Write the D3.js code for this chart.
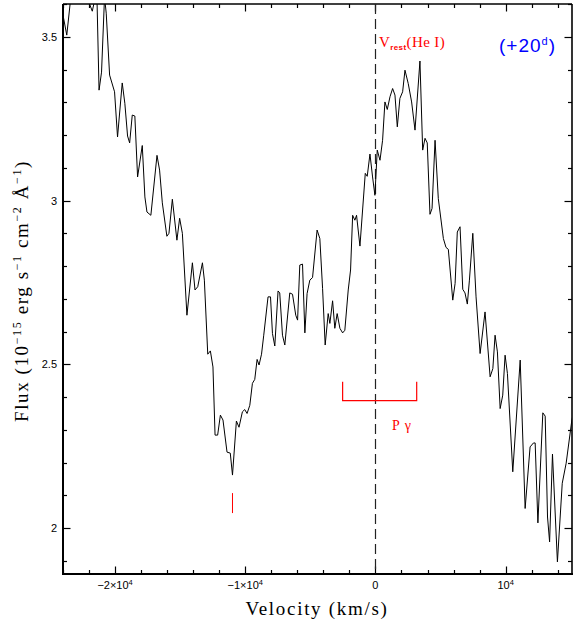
<!DOCTYPE html>
<html><head><meta charset="utf-8">
<script src="https://cdn.jsdelivr.net/npm/d3@7"></script>
<style>
html,body{margin:0;padding:0;background:#fff;}
svg{display:block;}
</style>
</head><body>
<svg id="chart" width="574" height="624"></svg>
<script>
// ---- data ----
const velocity = [-24000,-23710,-23450,-23270,-22960,-22650,-22350,-22120,-21960,-21750,-21600,-21460,-21380,-21230,-21040,-20810,-20680,-20420,-20040,-19810,-19450,-19250,-19040,-18880,-18680,-18480,-18270,-17910,-17710,-17550,-17250,-16780,-16580,-16370,-16020,-15860,-15600,-15250,-15040,-14830,-14480,-14060,-13860,-13650,-13290,-13140,-12880,-12680,-12480,-12320,-12120,-11910,-11710,-11400,-11150,-10980,-10680,-10480,-10220,-10040,-9860,-9650,-9450,-9270,-9090,-8940,-8750,-8580,-8250,-8060,-7910,-7730,-7480,-7350,-7140,-6960,-6580,-6370,-6120,-5980,-5810,-5600,-5420,-5250,-5040,-4830,-4480,-4270,-4060,-3860,-3630,-3500,-3290,-3120,-2940,-2730,-2520,-2350,-2090,-1910,-1750,-1580,-1450,-1190,-780,-630,-420,-220,-40,140,350,550,730,910,1120,1320,1500,1680,1880,2090,2270,2520,2780,3040,3420,3630,3810,3980,4190,4350,4580,4830,5220,5420,5600,5940,6120,6290,6500,6710,6880,7060,7220,7480,7730,8040,8420,8810,9020,9190,9370,9580,9780,9960,10140,10550,11120,11500,11880,12140,12270,12480,12860,13040,13220,13380,13600,13980,14350,14650,15090,15200];
const flux = [3.566,3.505,3.602,3.648,3.679,3.636,3.667,3.618,3.600,3.578,3.606,3.630,3.600,3.337,3.392,3.621,3.572,3.383,3.332,3.194,3.359,3.297,3.197,3.176,3.261,3.258,3.072,3.168,3.011,2.965,2.955,3.138,3.093,2.993,2.891,2.900,3.004,2.879,2.946,2.900,2.650,2.810,2.727,2.737,2.810,2.757,2.531,2.541,2.492,2.284,2.284,2.345,2.330,2.232,2.229,2.162,2.327,2.308,2.355,2.362,2.350,2.375,2.442,2.454,2.515,2.498,2.531,2.589,2.706,2.706,2.594,2.556,2.724,2.718,2.589,2.559,2.718,2.714,2.650,2.635,2.803,2.806,2.596,2.716,2.757,2.765,2.910,2.884,2.732,2.559,2.655,2.625,2.694,2.610,2.655,2.610,2.596,2.604,2.727,2.788,2.955,2.940,2.955,2.861,3.083,3.074,3.142,3.072,3.016,3.154,3.123,3.184,3.301,3.278,3.317,3.342,3.322,3.225,3.312,3.332,3.398,3.357,3.301,3.215,3.426,3.154,3.190,3.176,2.958,2.976,3.184,3.006,2.884,2.857,2.851,2.696,2.747,2.904,2.920,2.729,2.718,2.684,2.757,2.900,2.706,2.533,2.660,2.462,2.487,2.589,2.538,2.365,2.406,2.528,2.472,2.172,2.513,2.060,2.248,2.260,2.260,2.016,2.352,2.342,2.034,1.958,2.226,1.897,2.137,2.198,2.330,2.350];

const xDomain = [-24000, 15100];
const yDomain = [1.86, 3.6];
const xMajorTicks = [-20000, -10000, 0, 10000];
const xTickLabels = [["−2×10","4"], ["−1×10","4"], ["0",""], ["10","4"]];
const yMajorTicks = [2, 2.5, 3, 3.5];
const yTickLabels = ["2", "2.5", "3", "3.5"];
const xMinorStep = 2000, yMinorStep = 0.1;

// annotations (data units)
const restVelocity = 0;
const pGammaRange = [-2520, 3170];
const pGammaLevel = [2.389, 2.447];
const absMarkVel = -10980;
const absMarkFlux = [2.046, 2.107];

// ---- layout ----
const L = 63, R = 572, T = 4, B = 574;
const svg = d3.select("#chart");
const x = d3.scaleLinear().domain(xDomain).range([L, R]);
const y = d3.scaleLinear().domain(yDomain).range([B, T]);

svg.append("defs").append("clipPath").attr("id","clip")
  .append("rect").attr("x",L).attr("y",T).attr("width",R-L).attr("height",B-T);

// minor tick arrays
const xMinor = d3.range(-24000, 15101, xMinorStep).filter(v => !xMajorTicks.includes(v));
const yMinor = d3.range(19, 36.01, 1).map(v => +(v/10).toFixed(1)).filter(v => !yMajorTicks.includes(v) && v >= yDomain[0] && v <= yDomain[1]);

const axG = svg.append("g").attr("stroke","#000").attr("fill","none");
const tickMaj = 7.5, tickMin = 4;
function xTicks(vals, len) {
  vals.forEach(v => {
    const px = Math.round(x(v)) + 0.5;
    axG.append("line").attr("x1",px).attr("x2",px).attr("y1",B).attr("y2",B-len).attr("stroke-width",1.2);
    axG.append("line").attr("x1",px).attr("x2",px).attr("y1",T).attr("y2",T+len).attr("stroke-width",1.2);
  });
}
function yTicks(vals, len) {
  vals.forEach(v => {
    const py = Math.round(y(v)) + 0.5;
    axG.append("line").attr("y1",py).attr("y2",py).attr("x1",L).attr("x2",L+len).attr("stroke-width",1.2);
    axG.append("line").attr("y1",py).attr("y2",py).attr("x1",R).attr("x2",R-len).attr("stroke-width",1.2);
  });
}
xTicks(xMajorTicks, tickMaj); xTicks(xMinor, tickMin);
yTicks(yMajorTicks, tickMaj); yTicks(yMinor, tickMin);

// frame
axG.append("line").attr("x1",L-1).attr("x2",R+1).attr("y1",B).attr("y2",B).attr("stroke-width",2.2);
axG.append("line").attr("x1",L).attr("x2",L).attr("y1",T).attr("y2",B+1).attr("stroke-width",2);
axG.append("line").attr("x1",L).attr("x2",R).attr("y1",T).attr("y2",T).attr("stroke-width",1.6);
axG.append("line").attr("x1",R).attr("x2",R).attr("y1",T).attr("y2",B).attr("stroke-width",1.6);

// tick labels
const xl = svg.append("g").attr("font-family","'Liberation Sans', Arial, sans-serif").attr("font-size",11).attr("fill","#000");
xMajorTicks.forEach((v,i) => {
  const t = xl.append("text").attr("x", x(v)).attr("y", 589).attr("text-anchor","middle");
  t.append("tspan").text(xTickLabels[i][0]);
  if (xTickLabels[i][1]) t.append("tspan").attr("dy",-4).attr("font-size",7.5).text(xTickLabels[i][1]);
});
yMajorTicks.forEach((v,i) => {
  xl.append("text").attr("x", 57).attr("y", y(v)+4).attr("text-anchor","end").text(yTickLabels[i]);
});

// axis titles
svg.append("text").attr("x", 317).attr("y", 615).attr("text-anchor","middle")
  .attr("font-family","'Liberation Serif', 'DejaVu Serif', serif").attr("font-size",19)
  .attr("letter-spacing",1.7).text("Velocity (km/s)");

const yt = svg.append("text").attr("transform","translate(28,291) rotate(-90)").attr("text-anchor","middle")
  .attr("font-family","'Liberation Serif', 'DejaVu Serif', serif").attr("font-size",19).attr("letter-spacing",1.6);
yt.append("tspan").text("Flux (10");
yt.append("tspan").attr("dy",-7).attr("font-size",12).text("−15");
yt.append("tspan").attr("dy",7).text(" erg s");
yt.append("tspan").attr("dy",-7).attr("font-size",12).text("−1");
yt.append("tspan").attr("dy",7).text(" cm");
yt.append("tspan").attr("dy",-7).attr("font-size",12).text("−2");
yt.append("tspan").attr("dy",7).text(" Å");
yt.append("tspan").attr("dy",-7).attr("font-size",12).text("−1");
yt.append("tspan").attr("dy",7).text(")");

// rest velocity dashed line
svg.append("line").attr("x1", Math.round(x(restVelocity))+0.5).attr("x2", Math.round(x(restVelocity))+0.5)
  .attr("y1",T).attr("y2",B).attr("stroke","#222").attr("stroke-width",1.2).attr("stroke-dasharray","10,5");

// spectrum
const line = d3.line().x((d,i)=>x(velocity[i])).y((d,i)=>y(flux[i]));
svg.append("path").datum(flux).attr("clip-path","url(#clip)")
  .attr("d", line).attr("fill","none").attr("stroke","#000").attr("stroke-width",1).attr("stroke-linejoin","miter");

// annotations
const red = "#ff0000";
svg.append("line").attr("x1", x(absMarkVel)).attr("x2", x(absMarkVel))
  .attr("y1", y(absMarkFlux[0])).attr("y2", y(absMarkFlux[1])).attr("stroke", red).attr("stroke-width",1);
const pb = d3.path();
pb.moveTo(x(pGammaRange[0]), y(pGammaLevel[1]));
pb.lineTo(x(pGammaRange[0]), y(pGammaLevel[0]));
pb.lineTo(x(pGammaRange[1]), y(pGammaLevel[0]));
pb.lineTo(x(pGammaRange[1]), y(pGammaLevel[1]));
svg.append("path").attr("d", pb.toString()).attr("fill","none").attr("stroke", red).attr("stroke-width",1.2);

svg.append("text").attr("x", 392).attr("y", 430).attr("fill", red)
  .attr("font-family","'Liberation Serif', serif").attr("font-size",14).attr("letter-spacing",1)
  .text("P γ");

const vr = svg.append("text").attr("x", 379).attr("y", 47).attr("fill", red)
  .attr("font-family","'Liberation Serif', serif").attr("font-size",15).attr("letter-spacing",0.4);
vr.append("tspan").text("V");
vr.append("tspan").attr("dy",3).attr("font-size",8).attr("font-weight","bold").attr("font-family","'Liberation Sans', sans-serif").text("rest");
vr.append("tspan").attr("dy",-3).text("(He I)");

const ep = svg.append("text").attr("x", 499).attr("y", 52).attr("fill", "#0000ff")
  .attr("font-family","'Liberation Sans', Arial, sans-serif").attr("font-size",19).attr("letter-spacing",1);
ep.append("tspan").text("(+20");
ep.append("tspan").attr("dy",-7).attr("font-size",11).text("d");
ep.append("tspan").attr("dy",7).text(")");
</script>
</body></html>
